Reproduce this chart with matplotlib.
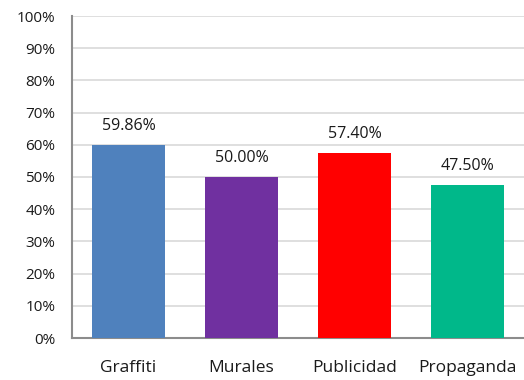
import matplotlib.pyplot as plt

categories = ['Graffiti', 'Murales', 'Publicidad', 'Propaganda']
values = [59.86, 50.00, 57.40, 47.50]
colors = ['#4F81BD', '#7030A0', '#FF0000', '#00B88A']
yticks = [0, 10, 20, 30, 40, 50, 60, 70, 80, 90, 100]

plt.rcParams['font.family'] = ['Open Sans', 'DejaVu Sans']

fig = plt.figure(figsize=(5.24, 3.80), dpi=100)
ax = fig.add_axes([72 / 524, 1 - 338 / 380, 452 / 524, 322 / 380])

x = range(len(categories))
ax.bar(x, values, width=0.64, color=colors, zorder=3)

for xi, v in zip(x, values):
    ax.annotate(f'{v:.2f}%', (xi, v), xytext=(0, 8), textcoords='offset points',
                ha='center', va='bottom', fontsize=11.5, color='#1A1A1A')

ax.set_xlim(-0.5, 3.5)
ax.set_ylim(0, 100)
ax.set_yticks(yticks)
ax.set_yticklabels([f'{t}%' for t in yticks])
ax.set_xticks(list(x))
ax.set_xticklabels(categories)
ax.tick_params(axis='y', length=0, pad=12, labelsize=11, labelcolor='#1A1A1A')
ax.tick_params(axis='x', length=0, pad=16, labelsize=12.5, labelcolor='#1A1A1A')

ax.yaxis.grid(True, color='#D9D9D9', linewidth=1.2, zorder=0)
ax.set_axisbelow(True)
for side in ['top', 'right']:
    ax.spines[side].set_visible(False)
for side in ['left', 'bottom']:
    ax.spines[side].set_color('#8C8C8C')
    ax.spines[side].set_linewidth(1.5)

fig.savefig('out.png', dpi=100)
